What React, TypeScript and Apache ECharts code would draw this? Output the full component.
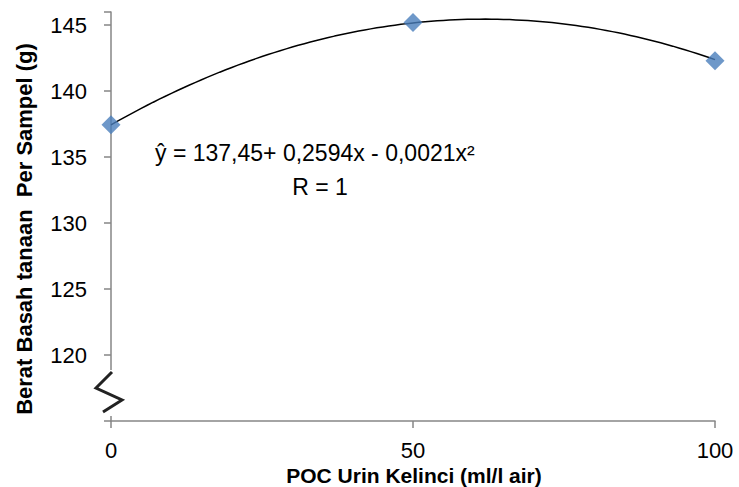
import React, { useEffect, useRef } from "react";
import * as echarts from "echarts";

const xValues = [0, 50, 100];
const yValues = [137.45, 145.2, 142.3];
const trendCoefficients = [137.45, 0.2594, -0.0021];
const xTicks = [0, 50, 100];
const yTickLabels = ["120", "125", "130", "135", "140", "145"];

export default function App() {
  const ref = useRef<HTMLDivElement>(null);
  useEffect(() => {
    document.body.style.margin = "0";
    document.body.style.overflow = "hidden";
    if (!ref.current) return;
    const chart = echarts.init(ref.current, undefined, { renderer: "svg" });
    const trend: number[][] = [];
    for (let x = xValues[0]; x <= xValues[xValues.length - 1]; x += 1) {
      const y = trendCoefficients[0] + trendCoefficients[1] * x + trendCoefficients[2] * x * x;
      trend.push([x, y]);
    }
    const font = "Liberation Sans, Arial, sans-serif";
    chart.setOption({
      animation: false,
      backgroundColor: "#ffffff",
      grid: { left: 111, right: 24, top: 12, bottom: 66, containLabel: false },
      xAxis: {
        type: "value",
        min: 0,
        max: 100,
        interval: 50,
        axisLine: { show: true, lineStyle: { color: "#868686", width: 1.5 } },
        axisTick: { show: true, length: 7, lineStyle: { color: "#868686", width: 1.5 } },
        axisLabel: {
          fontFamily: font,
          fontSize: 22,
          color: "#000",
          margin: 18,
          formatter: (v: number) => (xTicks.includes(v) ? String(v) : ""),
        },
        splitLine: { show: false },
      },
      yAxis: {
        type: "value",
        min: 115,
        max: 146,
        interval: 5,
        axisLine: { show: true, onZero: false, lineStyle: { color: "#868686", width: 1.5 } },
        axisTick: { show: true, length: 7, lineStyle: { color: "#868686", width: 1.5 } },
        axisLabel: {
          fontFamily: font,
          fontSize: 22,
          color: "#000",
          margin: 24,
          formatter: (v: number) => (yTickLabels.includes(String(v)) ? String(v) : ""),
        },
        splitLine: { show: false },
      },
      series: [
        {
          type: "line",
          data: trend,
          showSymbol: false,
          symbol: "none",
          lineStyle: { color: "#000", width: 1.5 },
          z: 2,
        },
        {
          type: "scatter",
          data: xValues.map((x, i) => [x, yValues[i]]),
          symbol: "diamond",
          symbolSize: [19, 19],
          itemStyle: { color: "#4A7EBB" },
          z: 3,
        },
      ],
      graphic: [
        { type: "rect", shape: { x: 106, y: 370, width: 10, height: 46 }, style: { fill: "#fff" }, z: 10 },
        {
          type: "polyline",
          shape: { points: [[103, 412], [122, 400], [96, 388], [112, 372]] },
          style: { stroke: "#222", lineWidth: 3, fill: "none" },
          z: 11,
        },
        {
          type: "text",
          x: 24,
          y: 229,
          rotation: Math.PI / 2,
          style: {
            text: "Berat Basah tanaan  Per Sampel (g)",
            fontFamily: font,
            fontWeight: "bold",
            fontSize: 22,
            fill: "#000",
            align: "center",
            verticalAlign: "middle",
          },
          z: 12,
        },
        {
          type: "text",
          x: 414,
          y: 475,
          style: {
            text: "POC Urin Kelinci (ml/l air)",
            fontFamily: font,
            fontWeight: "bold",
            fontSize: 21,
            fill: "#000",
            align: "center",
            verticalAlign: "middle",
          },
          z: 12,
        },
        {
          type: "text",
          x: 155,
          y: 153,
          style: {
            text: "ŷ = 137,45+ 0,2594x - 0,0021x²",
            fontFamily: font,
            fontSize: 23,
            fill: "#000",
            verticalAlign: "middle",
          },
          z: 12,
        },
        {
          type: "text",
          x: 320,
          y: 187,
          style: {
            text: "R = 1",
            fontFamily: font,
            fontSize: 23,
            fill: "#000",
            align: "center",
            verticalAlign: "middle",
          },
          z: 12,
        },
      ],
    });
    return () => chart.dispose();
  }, []);
  return <div ref={ref} style={{ width: 739, height: 487 }} />;
}
